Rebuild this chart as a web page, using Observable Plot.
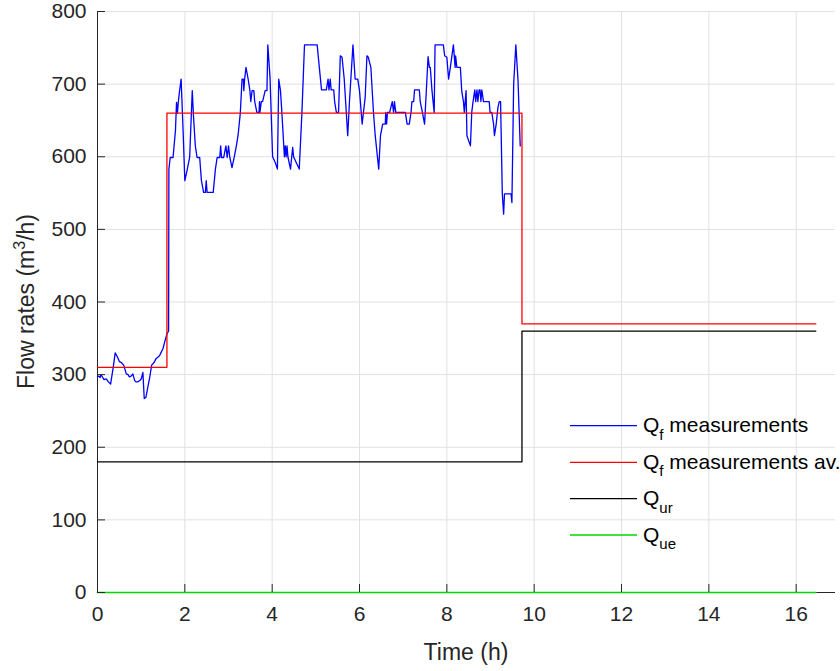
<!DOCTYPE html>
<html>
<head>
<meta charset="utf-8">
<script src="https://cdn.jsdelivr.net/npm/d3@7"></script>
<script src="https://cdn.jsdelivr.net/npm/@observablehq/plot@0.6"></script>
<style>
  html, body { margin: 0; padding: 0; background: #fff; }
</style>
</head>
<body>
<div id="chart"></div>
<script>
// ---- Data ----
const qfTime = [0.00,0.03,0.06,0.08,0.12,0.15,0.20,0.25,0.30,0.36,0.405,0.46,0.50,0.54,0.60,0.66,0.70,0.73,0.77,0.81,0.85,0.88,0.92,0.97,1.00,1.04,1.055,1.07,1.11,1.15,1.19,1.24,1.30,1.34,1.38,1.42,1.46,1.50,1.53,1.59,1.62,1.628,1.635,1.665,1.73,1.785,1.81,1.83,1.85,1.88,1.915,1.96,2.00,2.05,2.11,2.17,2.20,2.24,2.28,2.34,2.38,2.43,2.47,2.49,2.51,2.65,2.70,2.74,2.80,2.82,2.84,2.89,2.94,2.97,3.00,3.03,3.08,3.13,3.18,3.22,3.27,3.31,3.34,3.35,3.37,3.40,3.45,3.49,3.51,3.54,3.58,3.60,3.65,3.70,3.71,3.72,3.75,3.78,3.84,3.88,3.90,3.95,4.01,4.07,4.12,4.15,4.19,4.22,4.28,4.30,4.32,4.34,4.36,4.42,4.47,4.49,4.55,4.62,4.68,4.74,5.03,5.08,5.13,5.24,5.28,5.30,5.33,5.35,5.41,5.43,5.47,5.52,5.56,5.60,5.65,5.73,5.77,5.85,5.90,5.96,6.00,6.06,6.13,6.17,6.20,6.26,6.32,6.36,6.44,6.48,6.53,6.59,6.60,6.62,6.64,6.69,6.75,6.78,6.80,6.83,6.86,7.05,7.09,7.14,7.18,7.20,7.24,7.26,7.37,7.39,7.44,7.49,7.53,7.57,7.60,7.62,7.66,7.71,7.73,7.92,7.95,8.00,8.04,8.08,8.15,8.19,8.20,8.23,8.31,8.34,8.38,8.40,8.44,8.46,8.54,8.57,8.60,8.64,8.66,8.69,8.71,8.74,8.76,8.78,8.80,8.84,8.97,8.99,9.03,9.07,9.09,9.13,9.17,9.20,9.23,9.27,9.30,9.32,9.47,9.49,9.53,9.58,9.63,9.68];
const qfValue = [297,298,296,300,296,293,294,290,287,310,330,324,318,317,313,301,300,297,298,301,292,290,290,292,294,303,285,267,269,282,294,313,317,322,324,326,331,336,343,356,359,360,583,599,599,636,675,660,675,691,707,636,567,581,599,691,654,615,599,599,567,551,551,567,551,551,583,599,599,615,599,599,615,599,615,599,585,599,615,630,660,707,707,691,707,723,707,691,676,691,691,676,661,661,676,661,676,676,691,691,754,710,600,592,583,707,691,663,600,615,600,615,600,583,613,600,592,583,659,754,754,723,692,692,707,692,707,692,692,676,661,661,739,737,707,629,676,754,707,707,691,645,682,739,737,723,661,629,583,629,645,645,661,645,661,661,676,661,676,661,661,661,645,645,661,676,676,692,692,676,661,645,691,738,723,723,691,661,754,754,739,737,707,723,754,723,739,723,723,691,676,661,691,629,615,661,676,692,676,692,676,692,692,676,692,676,676,661,661,645,629,645,668,676,676,549,521,549,549,537,700,754,705,615];

const avTime = [0, 1.59, 9.72, 16.45];
const avValue = [310, 660, 370, 370];

const urTime = [0, 9.72, 16.45];
const urValue = [180, 360, 360];

const ueTime = [0, 16.45];
const ueValue = [0, 0];

const xTicks = [0, 2, 4, 6, 8, 10, 12, 14, 16];
const yTicks = [0, 100, 200, 300, 400, 500, 600, 700, 800];

const legendMain = ["Q", "Q", "Q", "Q"];
const legendSub = ["f", "f", "ur", "ue"];
const legendRest = [" measurements", " measurements av.", "", ""];
const seriesColors = ["#0000ff", "#ff0000", "#000000", "#00d800"];

const xLabel = "Time (h)";
const yLabelParts = ["Flow rates (m", "3", "/h)"];

// ---- Build tables ----
const qf = qfTime.map((t, i) => ({t, v: qfValue[i]}));
const av = avTime.map((t, i) => ({t, v: avValue[i]}));
const ur = urTime.map((t, i) => ({t, v: urValue[i]}));
const ue = ueTime.map((t, i) => ({t, v: ueValue[i]}));

const W = 840, H = 671;
const mL = 97, mR = 5, mT = 11, mB = 79;
const innerW = W - mL - mR, innerH = H - mT - mB;
const axisColor = "#262626";
const gridColor = "#e1e1e1";
const lw = 1.3;

const chart = Plot.plot({
  width: W,
  height: H,
  marginLeft: mL,
  marginRight: mR,
  marginTop: mT,
  marginBottom: mB,
  style: {fontFamily: "'Liberation Sans', Arial, Helvetica, sans-serif", fontSize: "21px", color: axisColor, background: "#fff", overflow: "visible"},
  x: {domain: [0, 16.9]},
  y: {domain: [0, 800]},
  marks: [
    Plot.gridX(xTicks, {stroke: gridColor, strokeOpacity: 1}),
    Plot.gridY(yTicks, {stroke: gridColor, strokeOpacity: 1}),
    Plot.ruleX([0], {stroke: axisColor}),
    Plot.ruleY([0], {stroke: axisColor}),
    Plot.line(qf, {x: "t", y: "v", stroke: seriesColors[0], strokeWidth: lw}),
    Plot.line(av, {x: "t", y: "v", stroke: seriesColors[1], strokeWidth: lw, curve: "step-after"}),
    Plot.line(ur, {x: "t", y: "v", stroke: seriesColors[2], strokeWidth: lw, curve: "step-after"}),
    Plot.line(ue, {x: "t", y: "v", stroke: seriesColors[3], strokeWidth: 1.6}),
    Plot.tickX(xTicks, {x: d => d, insetTop: innerH - 8, stroke: axisColor}),
    Plot.tickY(yTicks, {y: d => d, insetRight: innerW - 8, stroke: axisColor}),
    Plot.axisX(xTicks, {tickSize: 0, tickPadding: 14, label: null, fontSize: 21, fill: axisColor}),
    Plot.axisY(yTicks, {tickSize: 0, tickPadding: 11, label: null, fontSize: 21, fill: axisColor})
  ]
});

document.getElementById("chart").appendChild(chart);

// ---- Axis titles and legend ----
const svg = d3.select(chart);
const fam = "'Liberation Sans', Arial, Helvetica, sans-serif";

svg.append("text")
  .attr("x", mL + innerW / 2)
  .attr("y", 660)
  .attr("text-anchor", "middle")
  .attr("font-family", fam)
  .attr("font-size", 23)
  .attr("fill", axisColor)
  .text(xLabel);

const yl = svg.append("text")
  .attr("transform", `translate(34,${mT + innerH / 2}) rotate(-90)`)
  .attr("text-anchor", "middle")
  .attr("font-family", fam)
  .attr("font-size", 23)
  .attr("fill", axisColor);
yl.append("tspan").text(yLabelParts[0]);
yl.append("tspan").attr("font-size", 16).attr("dy", -9).text(yLabelParts[1]);
yl.append("tspan").attr("dy", 9).text(yLabelParts[2]);

const leg = svg.append("g").attr("text-anchor", "start");
const rowY = [425.7, 462.3, 498.7, 535];
legendMain.forEach((m, i) => {
  const y = rowY[i];
  leg.append("line")
    .attr("x1", 570).attr("x2", 637)
    .attr("y1", y).attr("y2", y)
    .attr("stroke", seriesColors[i])
    .attr("stroke-width", lw);
  const t = leg.append("text")
    .attr("x", 643)
    .attr("y", y + 6.5)
    .attr("text-anchor", "start")
    .attr("font-family", fam)
    .attr("font-size", 21)
    .attr("fill", "#000");
  t.append("tspan").text(m);
  t.append("tspan").attr("font-size", 15).attr("dy", 7.5).text(legendSub[i]);
  if (legendRest[i]) t.append("tspan").attr("dy", -7.5).text(legendRest[i]);
});
</script>
</body>
</html>
